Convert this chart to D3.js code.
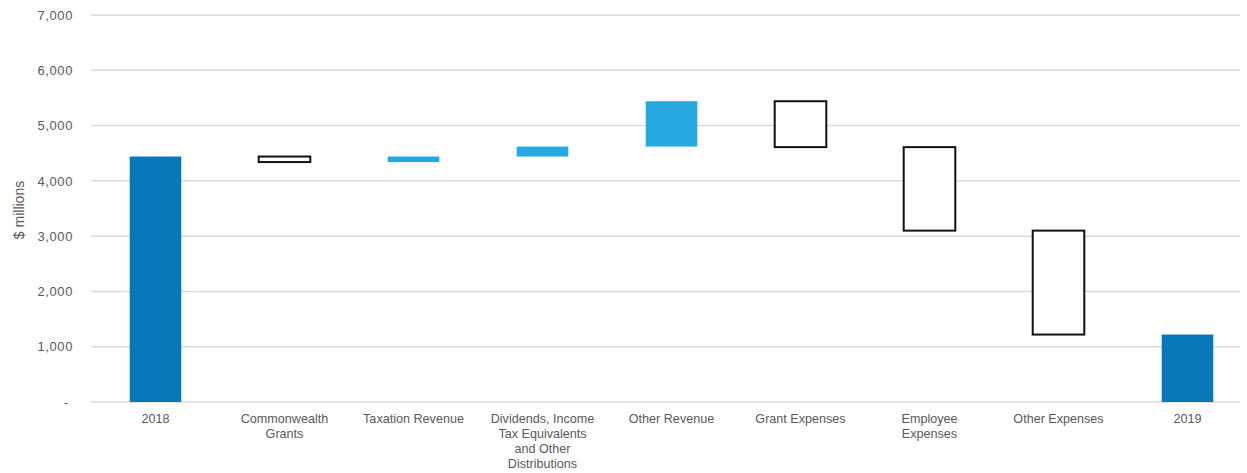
<!DOCTYPE html>
<html>
<head>
<meta charset="utf-8">
<script src="https://cdn.jsdelivr.net/npm/d3@7"></script>
<style>
  html, body { margin: 0; padding: 0; background: #fff; }
  svg { display: block; font-family: "Liberation Sans", Arial, sans-serif; }
</style>
</head>
<body>
<svg id="chart" width="1247" height="473"></svg>
<script>
// Waterfall: movement in $ millions from 2018 to 2019
const categories = ["2018", "Commonwealth Grants", "Taxation Revenue",
  "Dividends, Income Tax Equivalents and Other Distributions",
  "Other Revenue", "Grant Expenses", "Employee Expenses", "Other Expenses", "2019"];
const categoryLines = [["2018"], ["Commonwealth", "Grants"], ["Taxation Revenue"],
  ["Dividends, Income", "Tax Equivalents", "and Other", "Distributions"],
  ["Other Revenue"], ["Grant Expenses"], ["Employee", "Expenses"], ["Other Expenses"], ["2019"]];
// kind: total bars, or a change applied to the running total
const kinds = ["total", "change", "change", "change", "change", "change", "change", "change", "total"];
const values = [4440, -100, 100, 180, 820, -830, -1510, -1880, 1220];
const yTicks = [0, 1000, 2000, 3000, 4000, 5000, 6000, 7000];

const svg = d3.select("#chart");
const plot = { left: 91, right: 1252, top: 15, bottom: 402 };

const x = d3.scaleBand().domain(categories).range([plot.left, plot.right]).paddingInner(0.6).paddingOuter(0.3);
const y = d3.scaleLinear().domain([0, 7000]).range([plot.bottom, plot.top]);

// running totals -> segments
let running = 0;
const segs = categories.map((c, i) => {
  let lo, hi, type;
  if (kinds[i] === "total") {
    lo = 0; hi = values[i]; running = values[i]; type = "total";
  } else {
    const next = running + values[i];
    lo = Math.min(running, next); hi = Math.max(running, next);
    type = values[i] >= 0 ? "up" : "down";
    running = next;
  }
  return { c, lo, hi, type };
});

// gridlines
svg.append("g").selectAll("line").data(yTicks).join("line")
  .attr("x1", plot.left).attr("x2", 1240)
  .attr("y1", d => y(d)).attr("y2", d => y(d))
  .attr("stroke", "#d9d9d9").attr("stroke-width", 1.5);

// y axis labels
const yAxis = d3.axisLeft(y).tickValues(yTicks).tickSize(0).tickPadding(0)
  .tickFormat(d => d === 0 ? "-" : d3.format(",")(d));
const ga = svg.append("g").attr("transform", "translate(73,0)").call(yAxis);
ga.select(".domain").remove();
ga.selectAll("text").attr("font-size", 13).attr("letter-spacing", 0.6).attr("fill", "#595959")
  .attr("font-family", "Liberation Sans, Arial, sans-serif");
ga.selectAll(".tick").filter(d => d === 0).select("text").attr("dx", -4);

svg.append("text").attr("transform", "translate(24,210) rotate(-90)")
  .attr("text-anchor", "middle").attr("font-size", 14).attr("fill", "#595959")
  .text("$ millions");

// bars
const colour = { total: "#0778ba", up: "#25a9e0", down: "#ffffff" };
svg.append("g").selectAll("rect").data(segs).join("rect")
  .attr("x", d => x(d.c)).attr("width", x.bandwidth())
  .attr("y", d => y(d.hi)).attr("height", d => y(d.lo) - y(d.hi))
  .attr("fill", d => colour[d.type])
  .attr("stroke", d => d.type === "down" ? "#111" : "none")
  .attr("stroke-width", 2);

// category labels
const gl = svg.append("g");
categories.forEach((c, i) => {
  const t = gl.append("text").attr("text-anchor", "middle")
    .attr("font-size", 12.6).attr("fill", "#595959");
  categoryLines[i].forEach((ln, j) => {
    t.append("tspan").attr("x", x(c) + x.bandwidth() / 2)
      .attr("y", 423 + j * 15).text(ln);
  });
});
</script>
</body>
</html>
